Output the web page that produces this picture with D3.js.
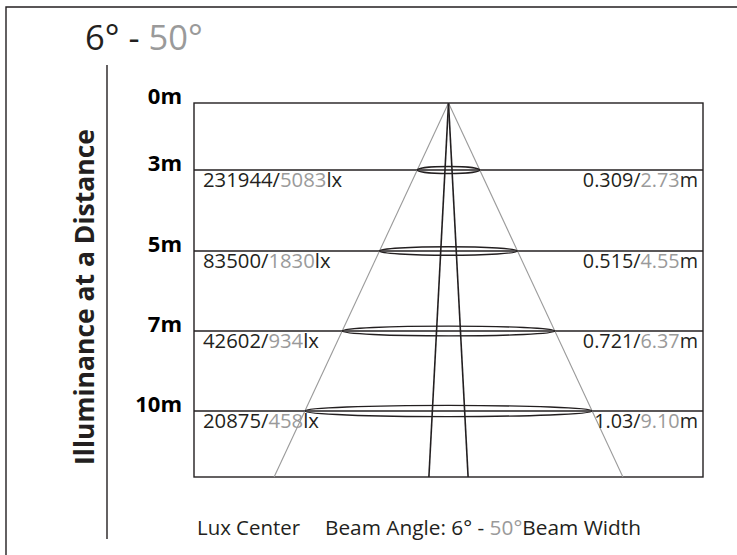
<!DOCTYPE html>
<html>
<head>
<meta charset="utf-8">
<script src="https://cdn.jsdelivr.net/npm/d3@7"></script>
<style>
  html, body { margin: 0; padding: 0; background: #fff; }
  text { font-family: "Open Sans", "Noto Sans", sans-serif; }
</style>
</head>
<body>
<div id="chart"></div>
<script>
// Beam data
const distanceLabels = ['0m', '3m', '5m', '7m', '10m'];
const distances = [0, 3, 5, 7, 10];
const luxNarrow = [231944, 83500, 42602, 20875];
const luxWide = [5083, 1830, 934, 458];
const widthNarrow = ['0.309', '0.515', '0.721', '1.03'];
const widthWide = ['2.73', '4.55', '6.37', '9.10'];
const beamAngles = [6, 50];

const W = 737, H = 555;
const INK = '#231f20';
const GREY = '#9a9a9a';

const svg = d3.select('#chart').append('svg')
  .attr('width', W)
  .attr('height', H);

// outer frame (only top + left edges fall inside the picture)
svg.append('path')
  .attr('d', `M6,${H} V7 H${W}`)
  .attr('fill', 'none')
  .attr('stroke', INK)
  .attr('stroke-width', 1.4);

// title
const title = svg.append('text')
  .attr('x', 85)
  .attr('y', 50)
  .attr('font-size', 34.5)
  .attr('fill', INK);
title.append('tspan').text(`${beamAngles[0]}° - `);
title.append('tspan').attr('fill', GREY).text(`${beamAngles[1]}°`);

// separator + y title
svg.append('line')
  .attr('x1', 107).attr('x2', 107)
  .attr('y1', 65).attr('y2', 539)
  .attr('stroke', INK)
  .attr('stroke-width', 1.4);

svg.append('text')
  .attr('transform', 'translate(94,297) rotate(-90)')
  .attr('text-anchor', 'middle')
  .attr('font-size', 26.5)
  .attr('font-weight', 'bold')
  .attr('fill', INK)
  .text('Illuminance at a Distance');

// plot box
const boxLeft = 194, boxRight = 703;
const x = d3.scaleLinear().domain([-1, 1]).range([boxLeft, boxRight]);
// rows are not evenly spaced in the original, so the distance scale is piecewise
const y = d3.scaleLinear()
  .domain([0, 3, 5, 7, 10, 12.5])
  .range([103, 170, 251, 331, 411, 477]);
const yTop = y(0), yBottom = y(12.5);
const cx = x(0);

svg.append('rect')
  .attr('x', boxLeft).attr('y', yTop)
  .attr('width', boxRight - boxLeft).attr('height', yBottom - yTop)
  .attr('fill', 'none')
  .attr('stroke', INK)
  .attr('stroke-width', 1.4);

const rows = distances.slice(1).map((d, i) => ({
  d,
  label: distanceLabels[i + 1],
  lux: luxNarrow[i],
  luxW: luxWide[i],
  w: widthNarrow[i],
  wW: widthWide[i]
}));

svg.append('g').selectAll('line')
  .data(rows)
  .enter()
  .append('line')
  .attr('x1', boxLeft).attr('x2', boxRight)
  .attr('y1', r => y(r.d)).attr('y2', r => y(r.d))
  .attr('stroke', INK)
  .attr('stroke-width', 1.4);

// distance labels
svg.append('g').selectAll('text')
  .data(distances)
  .enter()
  .append('text')
  .attr('x', 182)
  .attr('y', d => y(d) + 1)
  .attr('text-anchor', 'end')
  .attr('font-size', 22)
  .attr('font-weight', 'bold')
  .attr('fill', '#000')
  .text((d, i) => distanceLabels[i]);

// beam cones drawn in picture space from the apex
const halfTan = a => Math.tan(a / 2 * Math.PI / 180);
const span = yBottom - yTop;
const cone = (a, color, sw) => {
  [-1, 1].forEach(s => {
    svg.append('line')
      .attr('x1', cx).attr('y1', yTop)
      .attr('x2', cx + s * span * halfTan(a)).attr('y2', yBottom)
      .attr('stroke', color)
      .attr('stroke-width', sw);
  });
};
cone(beamAngles[1], GREY, 1.1);
cone(beamAngles[0], INK, 1.6);

svg.append('g').selectAll('ellipse')
  .data(rows)
  .enter()
  .append('ellipse')
  .attr('cx', cx)
  .attr('cy', r => y(r.d))
  .attr('rx', r => (y(r.d) - yTop) * halfTan(beamAngles[1]))
  .attr('ry', r => 3 + (y(r.d) - yTop) * halfTan(beamAngles[1]) * 0.018)
  .attr('fill', 'none')
  .attr('stroke', INK)
  .attr('stroke-width', 1.4);

// lux labels (left) and beam width labels (right)
const luxText = svg.append('g').selectAll('text')
  .data(rows)
  .enter()
  .append('text')
  .attr('x', 203)
  .attr('y', r => y(r.d) + 17)
  .attr('font-size', 20.3)
  .attr('fill', INK);
luxText.append('tspan').text(r => `${r.lux}/`);
luxText.append('tspan').attr('fill', GREY).text(r => r.luxW);
luxText.append('tspan').text('lx');

const widthText = svg.append('g').selectAll('text')
  .data(rows)
  .enter()
  .append('text')
  .attr('x', 698)
  .attr('y', r => y(r.d) + 17)
  .attr('text-anchor', 'end')
  .attr('font-size', 19.8)
  .attr('fill', INK);
widthText.append('tspan').text(r => `${r.w}/`);
widthText.append('tspan').attr('fill', GREY).text(r => r.wW);
widthText.append('tspan').text('m');

// caption
svg.append('text')
  .attr('x', 197)
  .attr('y', 535)
  .attr('font-size', 20.4)
  .attr('fill', INK)
  .text('Lux Center');

const cap = svg.append('text')
  .attr('x', 325)
  .attr('y', 535)
  .attr('font-size', 20.8)
  .attr('fill', INK);
cap.append('tspan').text(`Beam Angle: ${beamAngles[0]}° - `);
cap.append('tspan').attr('fill', GREY).text(`${beamAngles[1]}°`);
cap.append('tspan').text('Beam Width');
</script>
</body>
</html>
